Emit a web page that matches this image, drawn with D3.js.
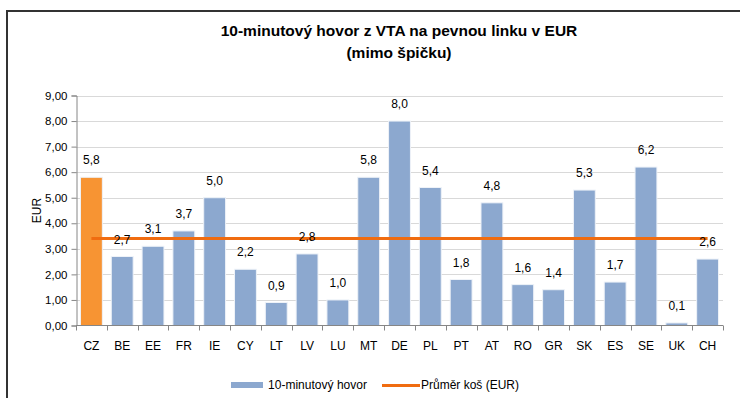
<!DOCTYPE html>
<html>
<head>
<meta charset="utf-8">
<script src="https://cdn.jsdelivr.net/npm/d3@7"></script>
<style>
  html, body { margin: 0; padding: 0; background: #fff; }
  svg { display: block; font-family: "Liberation Sans", Arial, sans-serif; }
</style>
</head>
<body>
<svg id="chart" width="740" height="398"></svg>
<script>
// Country codes along the x axis
const countries = ["CZ","BE","EE","FR","IE","CY","LT","LV","LU","MT","DE","PL","PT","AT","RO","GR","SK","ES","SE","UK","CH"];
// Price of a 10-minute off-peak call to a fixed line (EUR)
const callPrice = [5.8,2.7,3.1,3.7,5.0,2.2,0.9,2.8,1.0,5.8,8.0,5.4,1.8,4.8,1.6,1.4,5.3,1.7,6.2,0.1,2.6];
// Average basket value (EUR)
const averageBasket = 3.4;
// Y axis ticks
const yTicks = [0,1,2,3,4,5,6,7,8,9];
const seriesNames = ["10-minutový hovor", "Průměr koš (EUR)"];
const highlighted = "CZ";

const svg = d3.select("#chart");
const W = 740, H = 398;
const plot = { left: 76, right: 723, top: 95.5, bottom: 325.5 };

const fmt = v => d3.format(".2f")(v).replace(".", ",");
const fmt1 = v => d3.format(".1f")(v).replace(".", ",");

// Outer frame
svg.append("rect")
  .attr("x", 7).attr("y", 11)
  .attr("width", W + 10).attr("height", H + 10)
  .attr("fill", "#fff").attr("stroke", "#333").attr("stroke-width", 2);

// Title
const title = svg.append("text")
  .attr("x", 399).attr("text-anchor", "middle")
  .attr("font-weight", "bold").attr("font-size", 15.5).attr("fill", "#000");
title.append("tspan").attr("x", 399).attr("y", 36).text("10-minutový hovor z VTA na pevnou linku v EUR");
title.append("tspan").attr("x", 399).attr("y", 58).text("(mimo špičku)");

const x = d3.scaleBand().domain(countries).range([plot.left, plot.right]).paddingInner(0.29).paddingOuter(0.145);
const xb = d3.scaleBand().domain(countries).range([plot.left, plot.right]);
const y = d3.scaleLinear().domain([0, 9]).range([plot.bottom, plot.top]);

// Gridlines
svg.append("g")
  .selectAll("line").data(yTicks.filter(t => t > 0)).join("line")
  .attr("x1", plot.left).attr("x2", plot.right)
  .attr("y1", d => Math.round(y(d)) + 0.5).attr("y2", d => Math.round(y(d)) + 0.5)
  .attr("stroke", "#d9d9d9").attr("stroke-width", 1);

// Bars
svg.append("g")
  .selectAll("rect").data(countries).join("rect")
  .attr("x", d => x(d))
  .attr("width", x.bandwidth())
  .attr("y", (d, i) => y(callPrice[i]))
  .attr("height", (d, i) => y(0) - y(callPrice[i]))
  .attr("fill", d => d === highlighted ? "#f79433" : "#8ca8cf")
  .attr("stroke", "#eef2f8").attr("stroke-width", 1);

// Average line
const line = d3.line().x(d => xb(d) + xb.bandwidth() / 2).y(() => y(averageBasket));
svg.append("path")
  .datum(countries)
  .attr("d", line)
  .attr("fill", "none").attr("stroke", "#f06c10").attr("stroke-width", 3);

// Value labels
svg.append("g")
  .selectAll("text").data(countries).join("text")
  .attr("x", d => x(d) + x.bandwidth() / 2)
  .attr("y", (d, i) => y(callPrice[i]) - 13)
  .attr("text-anchor", "middle").attr("font-size", 12).attr("fill", "#000")
  .text((d, i) => fmt1(callPrice[i]));

// Y axis
const yAxis = d3.axisLeft(y).tickValues(yTicks).tickFormat(fmt).tickSize(5).tickPadding(4);
const gy = svg.append("g").attr("transform", `translate(${plot.left + 0.5},0)`).call(yAxis);
gy.select(".domain").attr("stroke", "#868686");
gy.selectAll(".tick line").attr("stroke", "#868686");
gy.selectAll(".tick text").attr("font-size", 11.5).attr("fill", "#000")
  .attr("font-family", "Liberation Sans, Arial, sans-serif");

// X axis
const gx = svg.append("g").attr("transform", `translate(0,${plot.bottom})`);
gx.append("line").attr("x1", plot.left).attr("x2", plot.right)
  .attr("stroke", "#868686");
gx.selectAll("line.tk").data(countries.concat(["_end"])).join("line")
  .attr("class", "tk")
  .attr("x1", (d, i) => Math.round(plot.left + i * xb.bandwidth()) + 0.5)
  .attr("x2", (d, i) => Math.round(plot.left + i * xb.bandwidth()) + 0.5)
  .attr("y1", 0).attr("y2", 5).attr("stroke", "#868686");
gx.selectAll("text").data(countries).join("text")
  .attr("x", d => xb(d) + xb.bandwidth() / 2)
  .attr("y", 24)
  .attr("text-anchor", "middle").attr("font-size", 12).attr("fill", "#000")
  .text(d => d);

// Y axis title
svg.append("text")
  .attr("transform", `translate(41,${(plot.top + plot.bottom) / 2}) rotate(-90)`)
  .attr("text-anchor", "middle").attr("font-size", 12).attr("fill", "#000")
  .text("EUR");

// Legend
const lg = svg.append("g");
lg.append("rect").attr("x", 231).attr("y", 382).attr("width", 32).attr("height", 6).attr("fill", "#8ca8cf");
lg.append("text").attr("x", 268).attr("y", 389).attr("font-size", 12).attr("fill", "#000")
  .attr("textLength", 99).text(seriesNames[0]);
lg.append("line").attr("x1", 382).attr("x2", 420).attr("y1", 385.5).attr("y2", 385.5)
  .attr("stroke", "#f06c10").attr("stroke-width", 3);
lg.append("text").attr("x", 421).attr("y", 389).attr("font-size", 12).attr("fill", "#000").text(seriesNames[1]);
</script>
</body>
</html>
